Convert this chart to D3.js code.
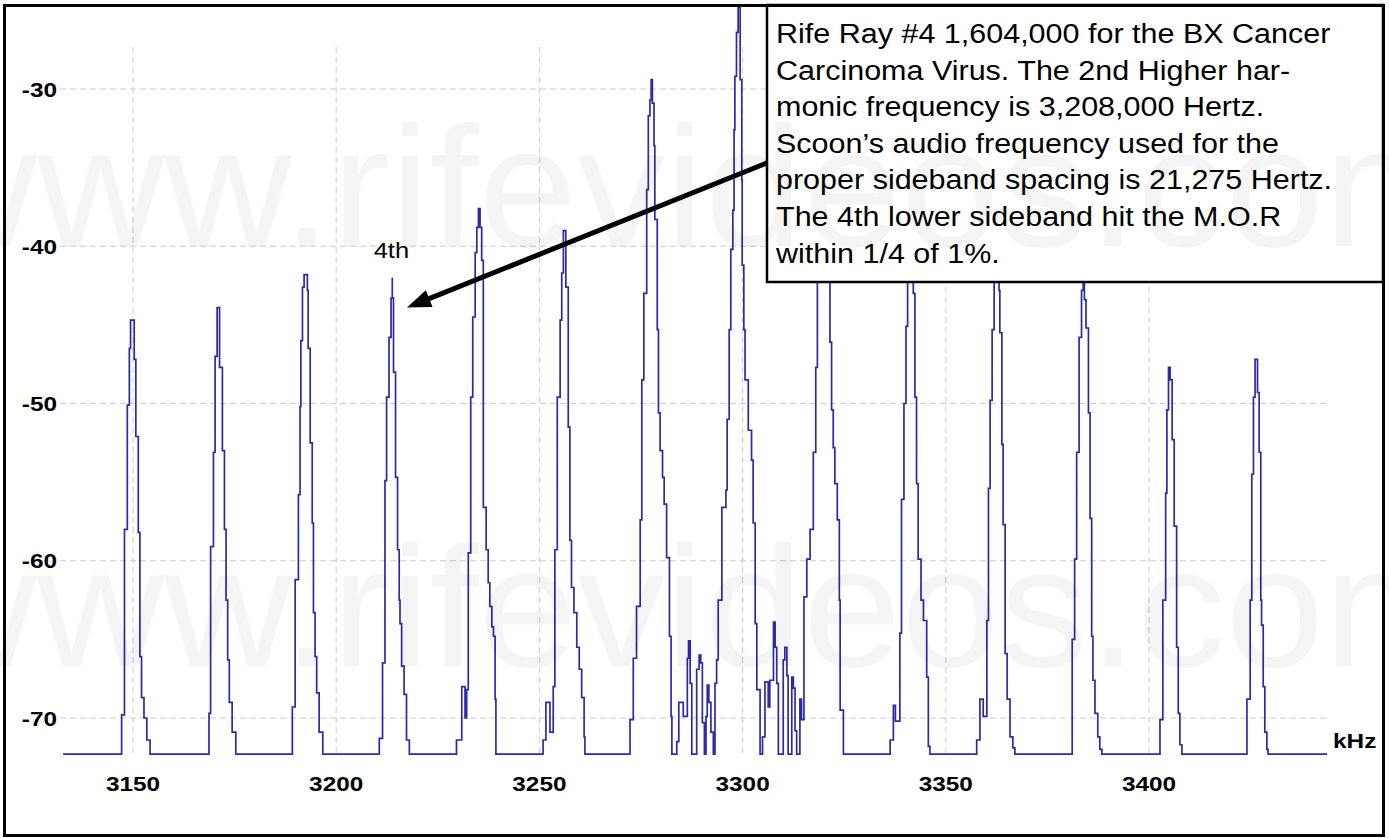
<!DOCTYPE html>
<html><head><meta charset="utf-8">
<script src="https://cdn.jsdelivr.net/npm/d3@7"></script>
<style>html,body{margin:0;padding:0;background:#fff;} svg{display:block;}</style>
</head><body><svg id="c" width="1389" height="838"></svg>
<script>
// ---------------- data ----------------
const xTicks = [3150, 3200, 3250, 3300, 3350, 3400];
const yTicks = [-30, -40, -50, -60, -70];
const xUnit = "kHz";
// spectrum trace [kHz, dBm], drawn as a stepped line
const spectrum = [
  [3132.8,-72.3],
  // sideband 1
  [3147.2,-72.3],[3147.9,-69.8],[3148.6,-58.0],[3149.1,-50.1],[3149.4,-46.5],[3150.3,-44.7],[3150.7,-47.2],[3151.3,-52.1],[3151.7,-58.2],[3152.1,-66.1],[3152.7,-68.7],[3153.4,-70.0],[3154.2,-71.4],
  // sideband 2
  [3168.7,-72.3],[3169.1,-69.7],[3169.8,-59.1],[3170.2,-53.1],[3170.7,-47.0],[3171.3,-43.9],[3172.0,-47.7],[3172.5,-53.0],[3172.9,-58.0],[3173.3,-62.5],[3173.7,-66.3],[3174.4,-69.0],[3175.3,-70.9],
  // sideband 3
  [3189.2,-72.3],[3189.9,-69.3],[3190.7,-61.2],[3191.1,-55.8],[3191.3,-50.2],[3191.7,-46.0],[3192.1,-42.6],[3192.9,-41.8],[3193.1,-42.8],[3193.6,-46.5],[3194.1,-52.5],[3194.4,-57.6],[3194.8,-63.3],[3195.2,-66.1],[3195.8,-68.4],[3196.7,-70.9],
  // sideband 4 ("4th")
  [3210.6,-72.3],[3211.4,-71.3],[3212.0,-66.5],[3212.4,-54.9],[3213.0,-49.6],[3213.5,-45.8],[3213.8,-43.3],[3213.8,-42.0],[3214.1,-43.3],[3214.6,-48.0],[3215.1,-54.7],[3215.5,-59.3],[3215.7,-62.5],[3216.1,-64.0],[3216.7,-66.7],[3217.3,-68.5],[3218.0,-71.4],
  // sideband 5
  [3229.6,-72.3],[3230.9,-71.4],[3231.7,-68.0],[3232.1,-70.0],[3232.5,-68.2],[3233.1,-59.5],[3233.6,-49.6],[3234.2,-44.5],[3234.6,-40.4],[3235.0,-38.8],[3235.4,-37.6],[3235.8,-38.8],[3236.2,-40.9],[3236.9,-56.6],[3237.4,-59.3],[3237.8,-61.4],[3238.3,-62.9],[3238.7,-64.2],[3239.1,-64.8],[3239.3,-68.8],
  // sideband 6
  [3250.9,-72.3],[3251.6,-71.4],[3252.6,-69.0],[3253.4,-70.9],[3253.8,-68.0],[3254.4,-59.3],[3255.1,-49.6],[3255.5,-44.7],[3255.9,-41.7],[3256.5,-39.0],[3257.1,-42.6],[3257.5,-51.5],[3257.9,-58.7],[3258.5,-61.7],[3259.2,-63.3],[3259.8,-65.5],[3260.4,-66.9],[3261.0,-68.7],[3261.2,-71.2],
  // sideband 7
  [3272.3,-72.3],[3273.1,-70.1],[3273.9,-66.2],[3274.8,-62.9],[3275.2,-57.4],[3275.7,-48.5],[3276.4,-43.0],[3276.8,-36.4],[3277.2,-31.7],[3277.5,-30.7],[3277.8,-29.4],[3278.2,-30.9],[3278.4,-33.6],[3279.0,-38.3],[3279.3,-45.3],[3279.7,-50.6],[3280.3,-53.0],[3280.7,-54.7],[3281.3,-56.4],[3282.0,-59.8],[3282.4,-64.8],[3282.6,-69.9],
  // noise
  [3283.8,-72.3],[3284.3,-71.5],[3285.4,-69.0],[3286.4,-69.9],[3286.7,-66.2],[3287.1,-65.1],[3287.5,-67.8],[3288.7,-72.3],[3289.3,-66.9],[3289.7,-66.0],[3290.1,-66.5],[3290.6,-70.3],[3291.0,-72.3],[3291.3,-69.9],[3291.7,-67.9],[3292.2,-69.0],[3292.8,-70.9],[3293.2,-72.3],[3293.6,-67.8],
  // carrier
  [3294.0,-66.3],[3294.9,-62.5],[3295.9,-56.6],[3296.2,-55.5],[3296.7,-51.0],[3297.1,-45.3],[3297.6,-40.2],[3297.9,-37.7],[3298.1,-32.6],[3298.5,-29.2],[3298.9,-26.4],[3299.4,-24.8],[3299.8,-29.4],[3299.9,-35.8],[3300.3,-41.2],[3300.6,-45.3],[3301.4,-48.5],[3302.2,-51.7],[3302.6,-53.6],[3303.1,-57.6],[3303.5,-64.0],[3304.3,-68.2],
  // noise
  [3304.9,-72.3],[3305.5,-71.2],[3306.3,-67.7],[3306.7,-69.3],[3307.6,-67.6],[3308.0,-63.9],[3308.4,-65.5],[3308.8,-67.8],[3310.0,-72.3],[3310.4,-66.3],[3310.9,-65.5],[3311.2,-67.3],[3312.1,-72.3],[3312.5,-67.4],[3312.9,-68.1],[3313.3,-70.8],[3314.1,-72.3],[3314.5,-68.8],[3315.1,-70.1],
  // sideband 9
  [3315.8,-62.3],[3316.6,-59.9],[3317.4,-58.0],[3318.0,-53.1],[3318.4,-47.7],[3318.9,-40.2],[3319.4,-33.2],[3320.0,-30.4],[3320.6,-34.5],[3321.5,-40.9],[3321.9,-46.1],[3322.3,-50.4],[3322.7,-52.8],[3323.3,-55.1],[3323.8,-57.4],[3324.0,-62.5],[3324.8,-69.5],
  // sideband 10
  [3336.3,-72.3],[3337.1,-71.4],[3337.6,-69.2],[3338.7,-70.2],[3339.1,-64.6],[3339.7,-56.1],[3340.2,-50.0],[3340.6,-45.1],[3340.9,-40.2],[3341.4,-37.1],[3342.0,-40.2],[3342.4,-43.0],[3342.8,-49.6],[3343.2,-55.1],[3343.9,-59.9],[3344.5,-62.5],[3345.3,-63.8],[3345.7,-67.4],[3346.1,-71.8],
  // sideband 11
  [3357.6,-72.3],[3358.4,-71.4],[3359.2,-68.8],[3360.1,-69.9],[3360.5,-63.8],[3360.9,-55.4],[3361.4,-49.8],[3361.9,-45.3],[3362.2,-40.2],[3362.6,-37.9],[3363.1,-40.2],[3363.3,-42.8],[3363.8,-45.5],[3364.1,-52.6],[3364.6,-57.7],[3365.1,-65.9],[3365.8,-68.8],[3366.5,-71.2],[3367.0,-71.9],
  // sideband 12
  [3381.1,-72.3],[3381.7,-65.0],[3382.2,-59.9],[3382.8,-53.1],[3383.4,-45.8],[3383.8,-42.8],[3384.1,-42.0],[3384.5,-43.4],[3385.1,-45.2],[3385.5,-50.6],[3385.9,-57.3],[3386.2,-64.8],[3386.7,-67.6],[3387.4,-69.7],[3387.9,-71.2],[3388.4,-72.0],
  // sideband 13
  [3402.7,-72.3],[3403.4,-70.1],[3404.1,-62.5],[3404.4,-55.7],[3404.8,-50.4],[3405.2,-47.7],[3405.7,-48.5],[3406.2,-52.3],[3406.8,-57.8],[3407.2,-65.5],[3407.6,-69.7],[3408.1,-71.7],
  // sideband 14
  [3424.1,-72.3],[3424.9,-68.8],[3425.3,-62.5],[3425.7,-54.5],[3426.1,-49.6],[3426.7,-47.2],[3427.1,-49.3],[3427.5,-53.1],[3427.7,-62.5],[3428.1,-64.1],[3428.5,-68.0],[3429.0,-70.9],[3429.3,-72.0],
  [3443.8,-72.3]
];
const peakLabelText = "4th";
const peakLabelPos = [3213.4, -40.75];
const arrowFrom = [3306.0, -34.7];
const arrowTo = [3217.4, -43.9];
const noteLines = [
  "Rife Ray #4 1,604,000 for the BX Cancer",
  "Carcinoma Virus. The 2nd Higher har-",
  "monic frequency is 3,208,000 Hertz.",
  "Scoon\u2019s audio frequency used for the",
  "proper sideband spacing is 21,275 Hertz.",
  "The 4th lower sideband hit the M.O.R",
  "within 1/4 of 1%."
];
const watermarkText = "www.rifevideos.com";

// ---------------- layout ----------------
const svg = d3.select("#c");
const x = d3.scaleLinear().domain([3150, 3400]).range([133, 1149]);
const y = d3.scaleLinear().domain([-30, -70]).range([89, 718]);
const plotLeft = 60, plotRight = 1327, plotTop = 47, plotBottom = 754;

svg.append("rect").attr("width", 1389).attr("height", 838).attr("fill", "#fff");

// grid
const grid = svg.append("g").attr("stroke", "#cccccc").attr("stroke-width", 1).attr("stroke-dasharray", "6,4");
grid.selectAll("line.v").data(xTicks).join("line").attr("class", "v")
  .attr("x1", d => x(d)).attr("x2", d => x(d)).attr("y1", plotTop).attr("y2", plotBottom);
grid.selectAll("line.h").data(yTicks).join("line").attr("class", "h")
  .attr("x1", plotLeft).attr("x2", plotRight).attr("y1", d => y(d)).attr("y2", d => y(d));

// trace
const line = d3.line().x(d => x(d[0])).y(d => y(d[1])).curve(d3.curveStepBefore);
svg.append("path").datum(spectrum).attr("d", line)
  .attr("fill", "none").attr("stroke", "#2b2ba8").attr("stroke-width", 1.7).attr("stroke-linejoin", "miter");

// stretched text helper
function stext(g, tx, ty, str, size, weight, anchor, sx) {
  return g.append("g").attr("transform", `translate(${tx},${ty}) scale(${sx || 1.16},1)`)
    .append("text").attr("x", 0).attr("y", 0).text(str)
    .attr("font-family", "'Liberation Sans', Arial, sans-serif")
    .attr("font-size", size).attr("font-weight", weight || "normal")
    .attr("text-anchor", anchor || "start").attr("fill", "#000");
}

// axis labels
const ax = svg.append("g");
yTicks.forEach(v => stext(ax, 57, y(v) + 7.5, String(v), 21, "bold", "end"));
xTicks.forEach(v => stext(ax, x(v), 791, String(v), 21, "bold", "middle"));
stext(ax, 1333, 748, xUnit, 21, "bold", "start");

// annotation box
svg.append("rect").attr("x", 767).attr("y", 5).attr("width", 616).attr("height", 277)
  .attr("fill", "#fff").attr("stroke", "#000").attr("stroke-width", 2.5);
const note = svg.append("g");
noteLines.forEach((t, i) => stext(note, 776, 43 + i * 36.6, t, 27, "normal", "start", 1.13));

// arrow
const ax0 = x(arrowFrom[0]), ay0 = y(arrowFrom[1]), ax1 = x(arrowTo[0]), ay1 = y(arrowTo[1]);
const L = Math.hypot(ax1 - ax0, ay1 - ay0), ux = (ax1 - ax0) / L, uy = (ay1 - ay0) / L;
const hl = 24, hw = 9;
svg.append("line").attr("x1", ax0).attr("y1", ay0).attr("x2", ax1 - ux * (hl - 2)).attr("y2", ay1 - uy * (hl - 2))
  .attr("stroke", "#000").attr("stroke-width", 5);
svg.append("path").attr("d", `M${ax1},${ay1}L${ax1 - ux * hl - uy * hw},${ay1 - uy * hl + ux * hw}L${ax1 - ux * hl + uy * hw},${ay1 - uy * hl - ux * hw}Z`)
  .attr("fill", "#000");

// peak label
stext(svg, x(peakLabelPos[0]) - 17, y(peakLabelPos[1]), peakLabelText, 22, "normal", "start");

// outer frame
svg.append("rect").attr("x", 4.5).attr("y", 5.5).attr("width", 1379).attr("height", 830)
  .attr("fill", "none").attr("stroke", "#000").attr("stroke-width", 3);

// watermark
[246, 666].forEach(by => {
  svg.append("g").attr("transform", `translate(-91,${by}) scale(1.04,1)`)
    .append("text").text(watermarkText)
    .attr("font-family", "'Liberation Sans', Arial, sans-serif").attr("font-size", 170)
    .attr("fill", "#000").attr("fill-opacity", 0.045);
});
</script></body></html>
